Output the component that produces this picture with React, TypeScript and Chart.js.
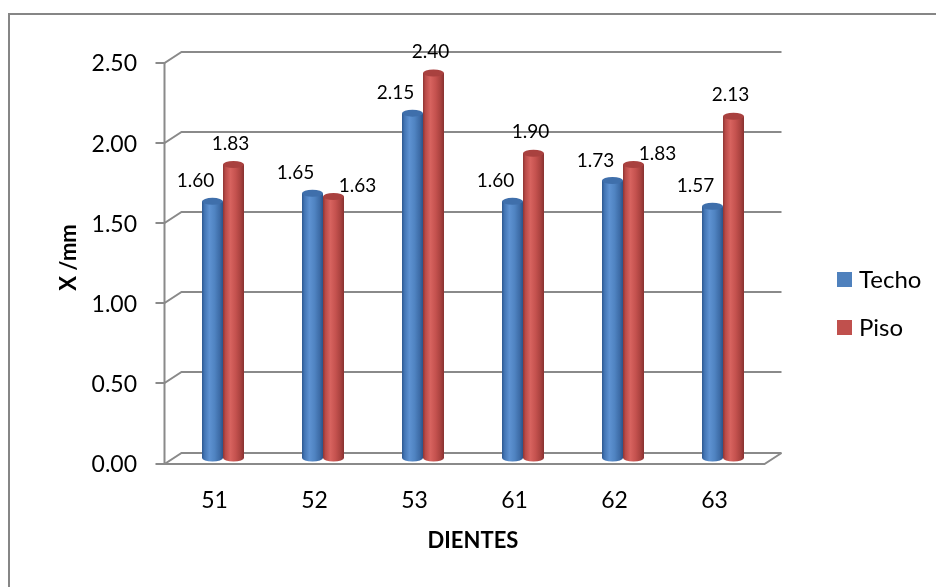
import React, { useEffect, useRef } from "react";
import { Chart, registerables } from "chart.js";

Chart.register(...registerables);

// Dientes (categories) and measured values, mm
const categories = ["51", "52", "53", "61", "62", "63"];
const techoValues = [1.6, 1.65, 2.15, 1.6, 1.73, 1.57];
const pisoValues = [1.83, 1.63, 2.4, 1.9, 1.83, 2.13];
const seriesNames = ["Techo", "Piso"];
const yMin = 0;
const yMax = 2.5;
const yStep = 0.5;

const FONT = "Lato, Carlito, Calibri, 'Liberation Sans', sans-serif";
const GRID = "#8a8a8a";

// half of the 3D depth: front plane is shifted left/down, back plane right/up
const DX = 8.5;
const DY = 5.5;

const palettes = [
  {
    base: "#4f81bd",
    top: "#3f6fab",
    stops: [
      [0, "#2d5890"],
      [0.12, "#4375b4"],
      [0.35, "#5e92d2"],
      [0.6, "#5084c2"],
      [0.85, "#3d6ba6"],
      [1, "#2b5287"],
    ],
  },
  {
    base: "#c0504d",
    top: "#a9413f",
    stops: [
      [0, "#8f3533"],
      [0.12, "#b94b48"],
      [0.35, "#d7635f"],
      [0.6, "#c5524f"],
      [0.85, "#a7413e"],
      [1, "#873130"],
    ],
  },
];

function cylinder(ctx: CanvasRenderingContext2D, bar: any, pal: any) {
  const { x, y, base, width } = bar;
  const left = x - width / 2;
  const rx = width / 2;
  const ry = 3.5;
  const g = ctx.createLinearGradient(left, 0, left + width, 0);
  pal.stops.forEach((s: any) => g.addColorStop(s[0], s[1]));
  ctx.save();
  ctx.fillStyle = g;
  ctx.beginPath();
  ctx.moveTo(left, y);
  ctx.lineTo(left, base);
  ctx.ellipse(x, base, rx, ry, 0, Math.PI, 0, true);
  ctx.lineTo(left + width, y);
  ctx.closePath();
  ctx.fill();
  // top cap
  ctx.beginPath();
  ctx.ellipse(x, y, rx, ry, 0, 0, Math.PI * 2);
  ctx.fillStyle = pal.top;
  ctx.fill();
  ctx.restore();
}

const frame3d = {
  id: "frame3d",
  beforeDatasetsDraw(chart: any) {
    const { ctx, chartArea: ca, scales } = chart;
    const ys = scales.y;
    const fx = ca.left - DX;
    const bx = ca.left + DX;
    const bxr = ca.right + DX;
    const fxr = ca.right - DX;
    ctx.save();
    ctx.strokeStyle = GRID;
    ctx.lineWidth = 2;
    ctx.lineCap = "butt";
    const yf0 = Math.round(ys.getPixelForValue(yMin) + DY);
    const yb0 = Math.round(ys.getPixelForValue(yMin) - DY);
    const yfTop = Math.round(ys.getPixelForValue(yMax) + DY);
    for (let v = yMin; v <= yMax + 1e-9; v += yStep) {
      const p = ys.getPixelForValue(v);
      const yf = Math.round(p + DY);
      const yb = Math.round(p - DY);
      ctx.beginPath();
      ctx.moveTo(fx - 9, yf);
      ctx.lineTo(fx, yf);
      ctx.lineTo(bx, yb);
      ctx.lineTo(bxr, yb);
      ctx.stroke();
    }
    // front axis edge
    ctx.beginPath();
    ctx.moveTo(fx, yfTop);
    ctx.lineTo(fx, yf0);
    ctx.stroke();
    // floor
    ctx.beginPath();
    ctx.moveTo(fx, yf0);
    ctx.lineTo(fxr, yf0);
    ctx.lineTo(bxr, yb0);
    ctx.stroke();
    ctx.restore();

    // cylinders
    chart.data.datasets.forEach((_: any, di: number) => {
      const meta = chart.getDatasetMeta(di);
      meta.data.forEach((bar: any) => cylinder(ctx, bar, palettes[di]));
    });

    // value labels
    const m0 = chart.getDatasetMeta(0);
    const m1 = chart.getDatasetMeta(1);
    ctx.save();
    ctx.font = `19px ${FONT}`;
    ctx.fillStyle = "#000";
    ctx.textAlign = "center";
    ctx.textBaseline = "middle";
    categories.forEach((_, i) => {
      const b = m0.data[i];
      const r = m1.data[i];
      const bt = techoValues[i].toFixed(2);
      const rt = pisoValues[i].toFixed(2);
      const blx = b.x - 17;
      const bly = b.y - 20;
      let rlx = r.x - 3;
      let rly = r.y - 21;
      const w = ctx.measureText(bt).width;
      if (Math.abs(rlx - blx) < w && Math.abs(rly - bly) < 18) {
        rlx = r.x + 24;
        rly = r.y - 11;
      }
      ctx.fillText(bt, blx, bly);
      ctx.fillText(rt, rlx, rly);
    });
    ctx.restore();

    // legend
    ctx.save();
    ctx.font = `24px ${FONT}`;
    ctx.textBaseline = "middle";
    ctx.textAlign = "left";
    const lx = 837;
    const ly = [279.5, 327.5];
    seriesNames.forEach((name, i) => {
      ctx.fillStyle = palettes[i].base;
      ctx.fillRect(lx, ly[i] - 7.5, 15, 15);
      ctx.fillStyle = "#000";
      ctx.fillText(name, lx + 22, ly[i] + 1);
    });
    ctx.restore();
    return false;
  },
  afterDraw(chart: any) {
    const { ctx } = chart;
    ctx.save();
    ctx.strokeStyle = "#868686";
    ctx.lineWidth = 2;
    ctx.strokeRect(9, 14, 1200, 1200);
    ctx.restore();
  },
};

export default function App() {
  const ref = useRef<HTMLCanvasElement | null>(null);
  useEffect(() => {
    if (!ref.current) return;
    const chart = new Chart(ref.current, {
      type: "bar",
      data: {
        labels: categories,
        datasets: [
          { label: seriesNames[0], data: techoValues, backgroundColor: palettes[0].base },
          { label: seriesNames[1], data: pisoValues, backgroundColor: palettes[1].base },
        ],
      },
      options: {
        responsive: false,
        animation: false,
        devicePixelRatio: 1,
        layout: { padding: { left: 0, right: 163, top: 57, bottom: 0 } },
        datasets: { bar: { categoryPercentage: 0.42, barPercentage: 1 } },
        plugins: { legend: { display: false }, tooltip: { enabled: false } },
        scales: {
          x: {
            grid: { display: false, drawTicks: false },
            border: { display: false },
            ticks: {
              color: "#000",
              font: { family: FONT, size: 23 },
              labelOffset: -8.5,
              padding: 29,
            },
            title: {
              display: true,
              text: "DIENTES",
              color: "#000",
              font: { family: FONT, size: 22, weight: "bold" },
              padding: { top: 0, bottom: 33 },
            },
            afterFit: (s: any) => {
              s.height = 129;
            },
          },
          y: {
            min: yMin,
            max: yMax,
            grid: { display: false, drawTicks: false },
            border: { display: false },
            ticks: {
              stepSize: yStep,
              color: "#000",
              font: { family: FONT, size: 23 },
              labelOffset: 7,
              padding: 36,
              callback: (v: any) => Number(v).toFixed(2),
            },
            title: {
              display: true,
              text: "X /mm",
              color: "#000",
              font: { family: FONT, size: 22, weight: "bold" },
              padding: { top: 56, bottom: 0 },
            },
            afterFit: (s: any) => {
              s.width = 173;
            },
          },
        },
      },
      plugins: [frame3d],
    });
    return () => chart.destroy();
  }, []);
  return (
    <div style={{ position: "fixed", left: 0, top: 0, width: 936, height: 587, background: "#fff" }}>
      <canvas ref={ref} width={936} height={587} style={{ display: "block" }} />
    </div>
  );
}
